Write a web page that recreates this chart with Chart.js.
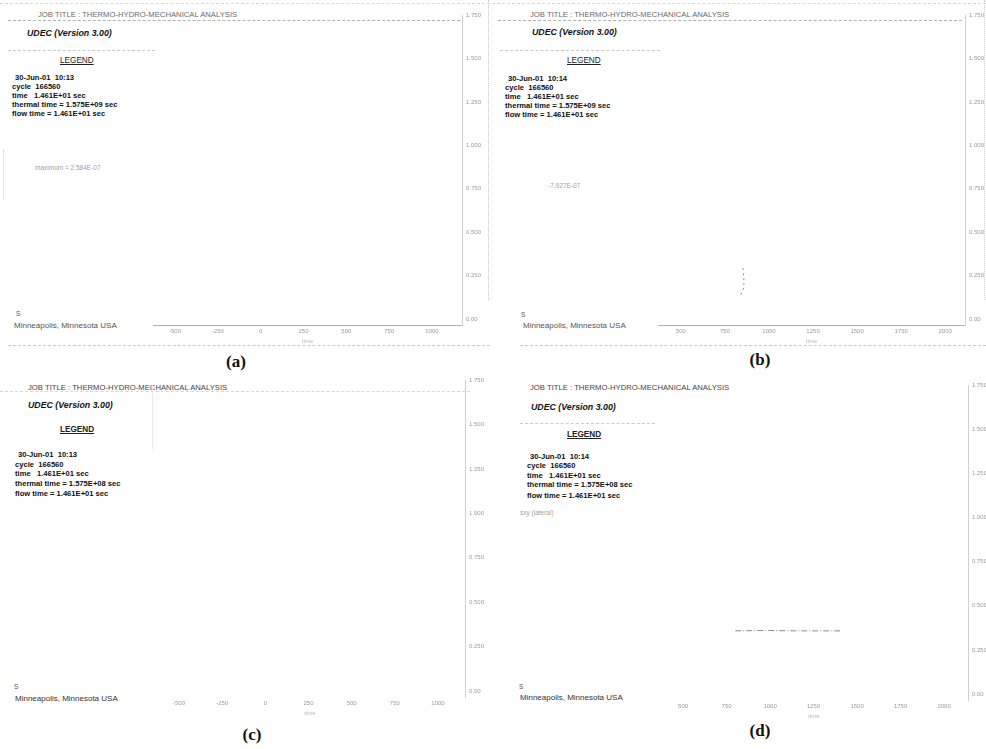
<!DOCTYPE html>
<html><head><meta charset="utf-8">
<script src="https://cdn.jsdelivr.net/npm/chart.js@4.4.1/dist/chart.umd.min.js"></script>
<style>
html,body{margin:0;padding:0;background:#fff;}
#page{position:relative;width:986px;height:749px;overflow:hidden;background:#fff;font-family:"Liberation Sans",Arial,sans-serif;}
.t{position:absolute;white-space:pre;line-height:1;}
canvas{position:absolute;}
.hl{position:absolute;height:0;border-top:1px dashed #bdbdbd;}
.vl{position:absolute;width:0;border-left:1px dotted #bdbdbd;}
</style></head>
<body><div id="page"></div>
<script>
// ---------- data ----------
const panelLabels = ["(a)", "(b)", "(c)", "(d)"];
const jobTitle = "JOB TITLE : THERMO-HYDRO-MECHANICAL ANALYSIS";
const versionText = "UDEC (Version 3.00)";
const legendTitle = "LEGEND";
const legendDates = ["30-Jun-01  10:13", "30-Jun-01  10:14", "30-Jun-01  10:13", "30-Jun-01  10:14"];
const legendCycles = ["cycle  166560", "cycle  166560", "cycle  166560", "cycle  166560"];
const legendTimes = ["time   1.461E+01 sec", "time   1.461E+01 sec", "time   1.461E+01 sec", "time   1.461E+01 sec"];
const legendThermal = ["thermal time = 1.575E+09 sec", "thermal time = 1.575E+09 sec", "thermal time = 1.575E+08 sec", "thermal time = 1.575E+08 sec"];
const legendFlow = ["flow time = 1.461E+01 sec", "flow time = 1.461E+01 sec", "flow time = 1.461E+01 sec", "flow time = 1.461E+01 sec"];
const panelNotes = ["maximum = 2.584E-07", "-7.927E-07", "", "sxy (lateral)"];
const companyLine = "Minneapolis, Minnesota USA";
const xAxisTitle = "time";

const xTickLabelsA = ["-500", "-250", "0", "250", "500", "750", "1000"];
const xTickLabelsB = ["500", "750", "1000", "1250", "1500", "1750", "2000"];
const xTickLabelsC = ["-500", "-250", "0", "250", "500", "750", "1000"];
const xTickLabelsD = ["500", "750", "1000", "1250", "1500", "1750", "2000"];
// listed top to bottom
const yTickLabelsA = ["1.750", "1.500", "1.250", "1.000", "0.750", "0.500", "0.250", "0.00"];
const yTickLabelsB = ["1.750", "1.500", "1.250", "1.000", "0.750", "0.500", "0.250", "0.00"];
const yTickLabelsC = ["1.750", "1.500", "1.250", "1.000", "0.750", "0.500", "0.250", "0.00"];
const yTickLabelsD = ["1.750", "1.500", "1.250", "1.000", "0.750", "0.500", "0.250", "0.00"];

// faint traces (in tick-index units)
const traceBx = [1.41, 1.43, 1.43, 1.36];
const traceBy = [1.17, 0.94, 0.74, 0.55];
const traceDx = [1.20, 1.95, 2.55, 3.61];
const traceDy = [1.43, 1.44, 1.43, 1.43];

// ---------- helpers ----------
const page = document.getElementById('page');
function addText(txt, x, cy, size, css) {
  const d = document.createElement('div');
  d.className = 't';
  d.textContent = txt;
  d.style.left = x + 'px';
  d.style.top = (cy - size * 0.55) + 'px';
  d.style.fontSize = size + 'px';
  Object.assign(d.style, css || {});
  page.appendChild(d);
  return d;
}
function hline(x1, x2, y, color) {
  const d = document.createElement('div'); d.className = 'hl';
  d.style.left = x1 + 'px'; d.style.width = (x2 - x1) + 'px'; d.style.top = y + 'px';
  if (color) d.style.borderTopColor = color;
  page.appendChild(d);
}
function vline(x, y1, y2, color) {
  const d = document.createElement('div'); d.className = 'vl';
  d.style.left = x + 'px'; d.style.top = y1 + 'px'; d.style.height = (y2 - y1) + 'px';
  if (color) d.style.borderLeftColor = color;
  page.appendChild(d);
}

// ---------- panel text ----------
const textGeom = [
  {title:[38,15], ver:[27,34], leg:[60,62], lx:12, ly:[78,87,96,105,114], note:[35,169], logo:[18,315], comp:[14,326], lab:[236,362]},
  {title:[530,15], ver:[532,33], leg:[567,62], lx:505, ly:[79,88,97,106,115], note:[548,187], logo:[523,316], comp:[523,326], lab:[760,360]},
  {title:[28,388], ver:[28,406], leg:[60,431], lx:15, ly:[455,465,474,484,494], note:[0,0], logo:[16,688], comp:[15,699], lab:[252,735]},
  {title:[530,388], ver:[531,408], leg:[567,436], lx:527, ly:[457,466,476,485,496], note:[520,514], logo:[521,688], comp:[520,698], lab:[760,731]}
];
textGeom.forEach((g, i) => {
  addText(jobTitle, g.title[0], g.title[1], 7.7, {color: i < 2 ? '#6a6a6a' : '#444'});
  addText(versionText, g.ver[0], g.ver[1], 8.8, {fontWeight:'bold', fontStyle:'italic', color:'#111'});
  addText(legendTitle, g.leg[0], g.leg[1], 8.2, {textDecoration:'underline', color:'#222', fontWeight: i < 2 ? 'normal' : 'bold'});
  const lines = [legendDates[i], legendCycles[i], legendTimes[i], legendThermal[i], legendFlow[i]];
  lines.forEach((s, k) => addText(s, g.lx + (k === 0 ? 3 : 0), g.ly[k], 7.6, {fontWeight:'bold', color:'#111'}));
  if (panelNotes[i]) addText(panelNotes[i], g.note[0], g.note[1], 6.5, {color:'#a0a0a0'});
  addText("S", g.logo[0] - 2, g.logo[1], 6.5, {color:'#555'});
  addText(companyLine, g.comp[0], g.comp[1], 8, {color: i < 2 ? '#555' : '#333'});
  const L = addText(panelLabels[i], g.lab[0], g.lab[1], 17, {fontFamily:'"Liberation Serif","Times New Roman",serif', fontWeight:'bold', color:'#111'});
  L.style.transform = 'translateX(-50%)';
});

// decorative frame lines of each UDEC plot
hline(0, 490, 3, '#d8d8d8'); hline(8, 460, 20, '#b0b0b0'); hline(8, 155, 50, '#c8c8c8'); hline(8, 490, 345, '#cacaca');
vline(488, 0, 300, '#c4c4c4'); vline(3, 150, 200, '#d8d8d8');
hline(492, 986, 3, '#d8d8d8'); hline(498, 962, 20, '#b0b0b0'); hline(500, 660, 50, '#c8c8c8'); hline(520, 986, 345, '#cacaca');
vline(984, 0, 300, '#d0d0d0');
hline(0, 470, 391, '#d8d8d8'); vline(152, 385, 450, '#dadada');
hline(520, 655, 423, '#cccccc');

// ---------- charts ----------
function makeChart(geom, xLabels, yLabels, datasets, showXBorder) {
  const c = document.createElement('canvas');
  c.width = geom.w; c.height = geom.h;
  c.style.left = geom.left + 'px'; c.style.top = geom.top + 'px';
  c.style.width = geom.w + 'px'; c.style.height = geom.h + 'px';
  page.appendChild(c);
  const n = yLabels.length - 1;
  new Chart(c, {
    type: 'scatter',
    data: { datasets },
    options: {
      responsive: false, animation: false, maintainAspectRatio: false,
      layout: { padding: { left: geom.pl, top: geom.pt, right: 0, bottom: 0 } },
      plugins: { legend: { display: false }, tooltip: { enabled: false } },
      scales: {
        x: {
          type: 'linear', position: 'bottom', min: geom.xmin, max: geom.xmax,
          grid: { display: false, drawTicks: false },
          border: { display: showXBorder, color: '#b4b4b4', dash: [4, 2] },
          ticks: { color: '#9a9a9a', font: { size: 6, family: 'Liberation Sans' }, padding: 3, autoSkip: false, maxRotation: 0,
                   callback: v => xLabels[Math.round(v)] ?? '' },
          afterBuildTicks: s => { s.ticks = xLabels.map((_, i) => ({ value: i })); },
          afterFit: s => { s.height = geom.xh; },
          title: { display: true, text: xAxisTitle, color: '#b8b8b8', font: { size: 6, family: 'Liberation Sans' }, padding: 0 }
        },
        y: {
          type: 'linear', position: 'right', min: geom.ymin, max: n,
          grid: { display: false, drawTicks: false },
          border: { display: true, color: '#d0d0d0', dash: [1, 3] },
          ticks: { color: '#9a9a9a', font: { size: 6, family: 'Liberation Sans' }, padding: 4, autoSkip: false,
                   callback: v => yLabels[n - Math.round(v)] ?? '' },
          afterBuildTicks: s => { s.ticks = yLabels.map((_, i) => ({ value: i })); },
          afterFit: s => { s.width = geom.yw; }
        }
      }
    }
  });
}
function trace(xs, ys, dash) {
  return { data: xs.map((x, i) => ({ x, y: ys[i] })), showLine: true, pointRadius: 0,
           borderColor: '#8c8c8c', borderWidth: 1, borderDash: dash };
}

makeChart({left:140, top:5, w:350, h:340, pl:13, pt:10, xh:20, yw:28, xmin:-0.514, xmax:6.70, ymin:-0.138},
          xTickLabelsA, yTickLabelsA, [], true);
makeChart({left:645, top:5, w:341, h:340, pl:13, pt:10, xh:20, yw:21, xmin:-0.52, xmax:6.45, ymin:-0.138},
          xTickLabelsB, yTickLabelsB, [trace(traceBx, traceBy, [2, 3])], true);
makeChart({left:142, top:370, w:348, h:347, pl:13, pt:10, xh:20, yw:25, xmin:-0.556, xmax:6.625, ymin:-0.135},
          xTickLabelsC, yTickLabelsC, [], false);
makeChart({left:647, top:375, w:339, h:345, pl:13, pt:10, xh:20, yw:18, xmin:-0.53, xmax:6.55, ymin:-0.136},
          xTickLabelsD, yTickLabelsD, [trace(traceDx, traceDy, [6, 2, 1, 2])], false);
</script>
</body></html>
